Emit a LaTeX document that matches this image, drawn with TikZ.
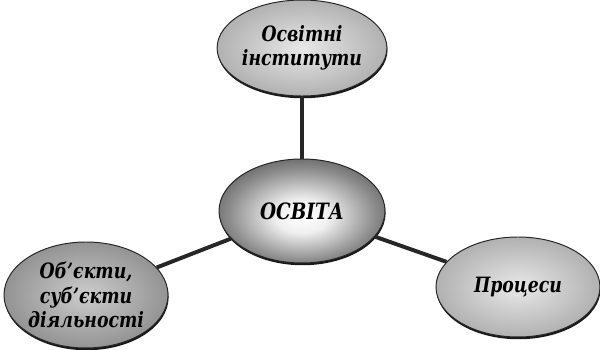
\documentclass[tikz,border=0pt]{standalone}
\usepackage{fontspec}
\newfontfamily\bubblefont{DejaVu Serif}[FakeStretch=0.82]
\usepackage{tikz}
\usetikzlibrary{shapes.geometric}
\usetikzlibrary{shadows}
\usetikzlibrary{positioning}
\tikzset{>=latex}
\pgfdeclareradialshading{corespot}{\pgfpoint{0bp}{-3bp}}{color(0bp)=(white); color(8bp)=(black!6); color(22bp)=(black!45); color(36bp)=(black!78); color(50bp)=(black!78)}
\pgfdeclareradialshading{leafspot}{\pgfpoint{0bp}{0bp}}{color(0bp)=(black!9); color(36bp)=(black!40); color(50bp)=(black!40)}
\pgfdeclareradialshading{darkleafspot}{\pgfpoint{0bp}{0bp}}{color(0bp)=(black!20); color(36bp)=(black!52); color(50bp)=(black!52)}
\tikzset{
  bubble/.style={ellipse, draw=black!85, line width=0.7pt, shade, shading=leafspot,
    drop shadow={shadow xshift=0.4pt, shadow yshift=-1.6pt, fill=black, opacity=0.9},
    minimum width=4.15cm, minimum height=2.45cm, inner sep=0pt, align=center,
    font=\bubblefont\bfseries\itshape\fontsize{15}{17.5}\selectfont},
  link/.style={line width=2.8pt, color=black!85}
}

\begin{document}
\begin{tikzpicture}[node distance=1.25cm]
        \useasboundingbox (0,0) rectangle (15,8.75);
        \node [bubble, shading=corespot, minimum height=2.6cm, font=\bubblefont\bfseries\itshape\fontsize{16}{17}\selectfont] (Osvita) at (7.55,3.475) {ОСВІТА};
        \node [bubble, minimum width=4.2cm, minimum height=2.4cm, above=1.55cm of Osvita] (Instytuty) {Освітні\\інститути};
        \node [bubble, shading=darkleafspot, minimum width=4.1cm, minimum height=2.65cm, left=of Osvita, yshift=-2.1cm] (Obiekty) {Об’єкти,\\суб’єкти\\діяльності};
        \node [bubble, minimum width=4.1cm, minimum height=2.5cm, right=of Osvita, yshift=-1.9cm] (Protsesy) {Процеси};
        \draw [link] (Osvita)--(Instytuty);
        \draw [link] (Osvita)--(Obiekty);
        \draw [link] (Osvita)--(Protsesy);
    \end{tikzpicture}
\end{document}
